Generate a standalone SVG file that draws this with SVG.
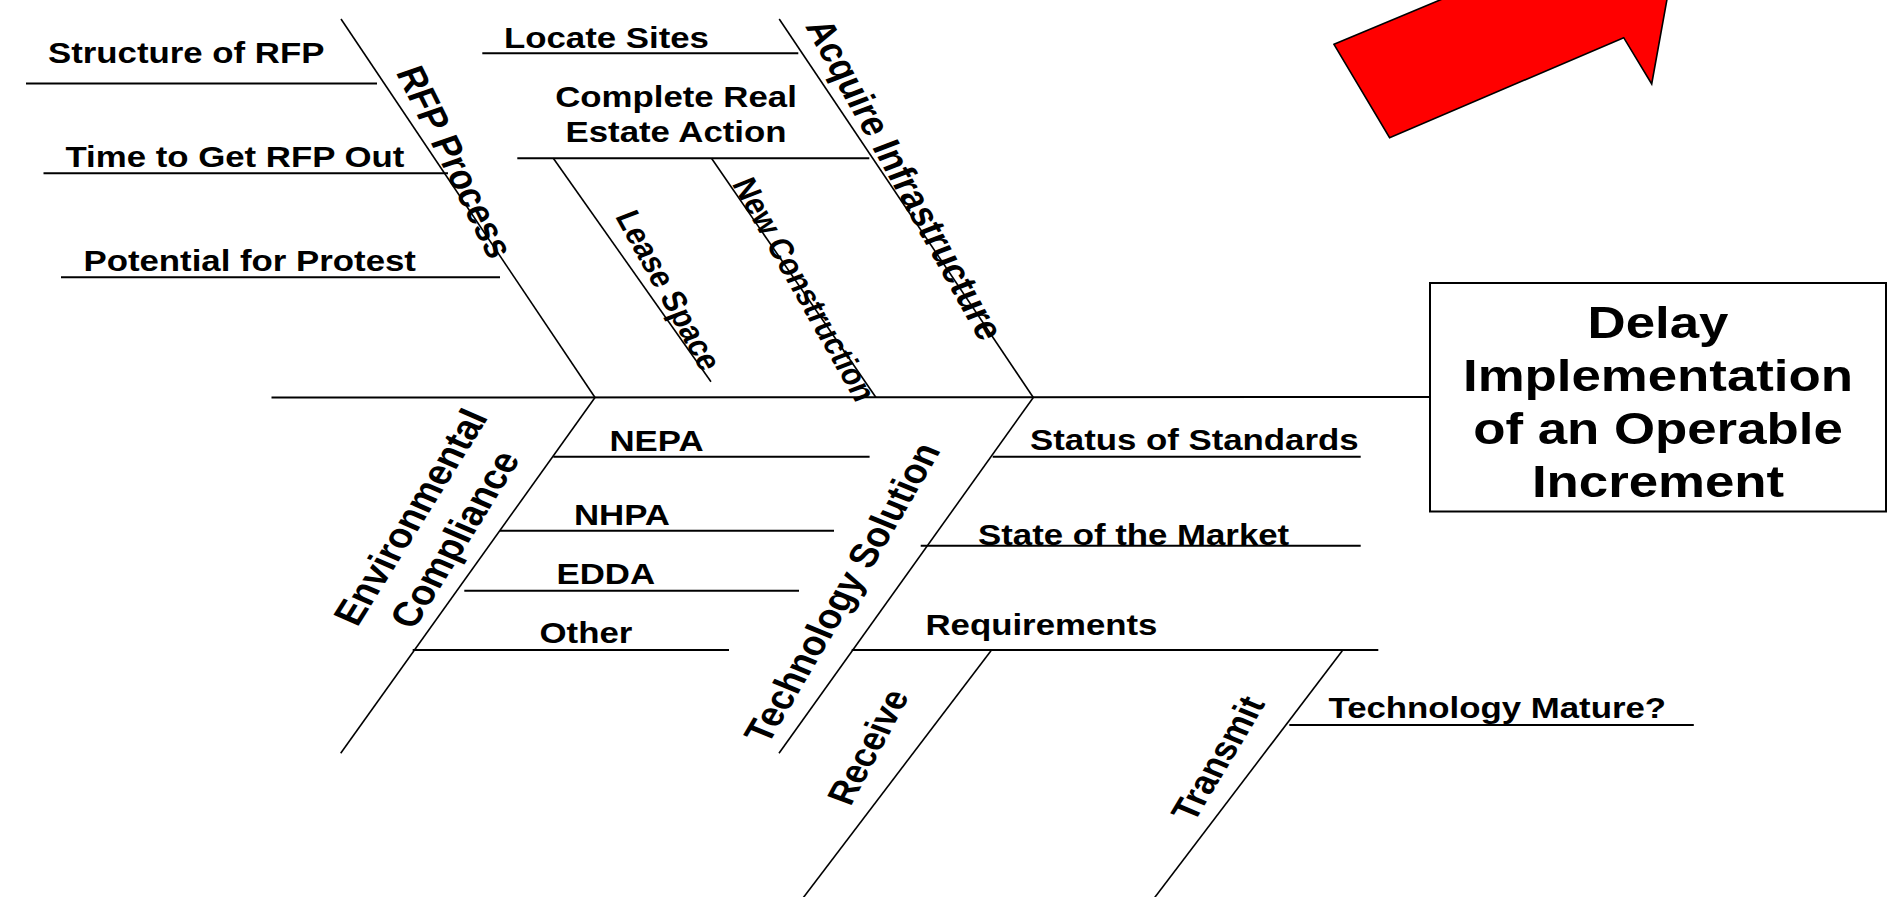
<svg xmlns="http://www.w3.org/2000/svg" width="1893" height="897" viewBox="0 0 1893 897">
<style>
.ln{stroke:#000;stroke-width:2;fill:none}
.dg{stroke:#000;stroke-width:1.6;fill:none}
.t{font-family:"Liberation Sans",Arial,sans-serif;font-weight:bold;font-size:29px;fill:#000}
.tm{font-size:33.2px}
.ts{font-size:28.4px}
.tbox{font-size:44px}
</style>
<rect width="1893" height="897" fill="#fff"/>
<g id="arrow">
<polygon points="1334,44.3 1535.7,-40 1674.1,-40 1651.7,84 1623.7,37.7 1389.6,137.7" fill="#ff0000" stroke="#000" stroke-width="1.6" stroke-linejoin="miter"/>
</g>
<g id="connectors">
<line class="ln" x1="271.5" y1="397.5" x2="1430" y2="397"/>
<line class="dg" x1="341" y1="19" x2="595" y2="397.5"/>
<line class="dg" x1="779.2" y1="19" x2="1033.3" y2="397.5"/>
<line class="dg" x1="595" y1="397.5" x2="340.7" y2="753.3"/>
<line class="dg" x1="1033.3" y1="397.5" x2="779" y2="753.3"/>
<line class="ln" x1="26" y1="83.5" x2="377" y2="83.5"/>
<line class="ln" x1="43.5" y1="173.3" x2="448" y2="173.3"/>
<line class="ln" x1="61" y1="277.3" x2="500" y2="277.3"/>
<line class="ln" x1="482.3" y1="53.3" x2="798.3" y2="53.3"/>
<line class="ln" x1="517.3" y1="158.3" x2="869.3" y2="158.3"/>
<line class="dg" x1="553.3" y1="158.3" x2="711" y2="381.7"/>
<line class="dg" x1="711.5" y1="158.3" x2="876" y2="397.5"/>
<line class="ln" x1="553.3" y1="456.7" x2="869.6" y2="456.7"/>
<line class="ln" x1="500" y1="530.7" x2="834" y2="530.7"/>
<line class="ln" x1="464.3" y1="590.7" x2="799" y2="590.7"/>
<line class="ln" x1="412.7" y1="650" x2="729" y2="650"/>
<line class="ln" x1="992.7" y1="456.7" x2="1360.7" y2="456.7"/>
<line class="ln" x1="920.7" y1="545.7" x2="1360.7" y2="545.7"/>
<line class="ln" x1="851.7" y1="650" x2="1378.3" y2="650"/>
<line class="dg" x1="991" y1="650.7" x2="801.5" y2="900"/>
<line class="dg" x1="1342.3" y1="650.7" x2="1152.8" y2="900"/>
<line class="ln" x1="1289.3" y1="725" x2="1693.8" y2="725"/>
</g>
<g id="effect">
<rect x="1430" y="283" width="456" height="228.5" fill="#fff" stroke="#000" stroke-width="2"/>
<text class="t tbox" text-anchor="middle" transform="translate(1658 337.5) scale(1.2 1)">Delay</text>
<text class="t tbox" text-anchor="middle" transform="translate(1658 390.5) scale(1.2 1)">Implementation</text>
<text class="t tbox" text-anchor="middle" transform="translate(1658 443.5) scale(1.2 1)">of an Operable</text>
<text class="t tbox" text-anchor="middle" transform="translate(1658 496.5) scale(1.2 1)">Increment</text>
</g>
<g id="rfp-process"><text class="t tm" text-anchor="middle" transform="translate(442.5 166.4) scale(1.2 1) rotate(67.4)">RFP Process</text></g>
<g id="structure-of-rfp"><text class="t" transform="translate(48 63.3) scale(1.2 1)">Structure of RFP</text></g>
<g id="time-to-get-rfp-out"><text class="t" transform="translate(65.5 166.7) scale(1.2 1)">Time to Get RFP Out</text></g>
<g id="potential-for-protest"><text class="t" transform="translate(83.5 270.7) scale(1.2 1)">Potential for Protest</text></g>
<g id="acquire-infrastructure"><text class="t tm" text-anchor="middle" transform="translate(892.5 184.3) scale(1.2 1) rotate(65.2)">Acquire Infrastructure</text></g>
<g id="locate-sites"><text class="t" transform="translate(504 47.7) scale(1.2 1)">Locate Sites</text></g>
<g id="complete-real-estate-action">
<text class="t" text-anchor="middle" transform="translate(676 107.3) scale(1.2 1)">Complete Real</text>
<text class="t" text-anchor="middle" transform="translate(676 142.3) scale(1.2 1)">Estate Action</text>
</g>
<g id="lease-space"><text class="t ts" text-anchor="middle" transform="translate(658.1 294.3) scale(1.2 1) rotate(65.2)">Lease Space</text></g>
<g id="new-construction"><text class="t ts" text-anchor="middle" transform="translate(793.9 293.6) scale(1.2 1) rotate(64.7)">New Construction</text></g>
<g id="environmental-compliance">
<text class="t" style="font-size:34.2px" text-anchor="middle" transform="translate(423 522.3) scale(1.2 1) rotate(-62.5)">Environmental</text>
<text class="t" style="font-size:34.2px" text-anchor="middle" transform="translate(467.2 544.8) scale(1.2 1) rotate(-62.5)">Compliance</text>
</g>
<g id="nepa"><text class="t" transform="translate(609.5 451) scale(1.2 1)">NEPA</text></g>
<g id="nhpa"><text class="t" transform="translate(574 525) scale(1.2 1)">NHPA</text></g>
<g id="edda"><text class="t" transform="translate(556.5 584) scale(1.2 1)">EDDA</text></g>
<g id="other"><text class="t" transform="translate(539.5 643.3) scale(1.2 1)">Other</text></g>
<g id="technology-solution"><text class="t" style="font-size:33.5px" text-anchor="middle" transform="translate(854.6 597.8) scale(1.2 1) rotate(-63.9)">Technology Solution</text></g>
<g id="status-of-standards"><text class="t" transform="translate(1030 450) scale(1.2 1)">Status of Standards</text></g>
<g id="state-of-the-market"><text class="t" transform="translate(978 545) scale(1.2 1)">State of the Market</text></g>
<g id="requirements"><text class="t" transform="translate(925.5 635) scale(1.2 1)">Requirements</text></g>
<g id="receive"><text class="t" style="font-size:32.2px" text-anchor="middle" transform="translate(880.1 751.4) scale(1.2 1) rotate(-66.1)">Receive</text></g>
<g id="transmit"><text class="t" style="font-size:32.2px" text-anchor="middle" transform="translate(1229.8 763.5) scale(1.2 1) rotate(-63.4)">Transmit</text></g>
<g id="technology-mature"><text class="t" transform="translate(1328.5 718.3) scale(1.2 1)">Technology Mature?</text></g>
</svg>
